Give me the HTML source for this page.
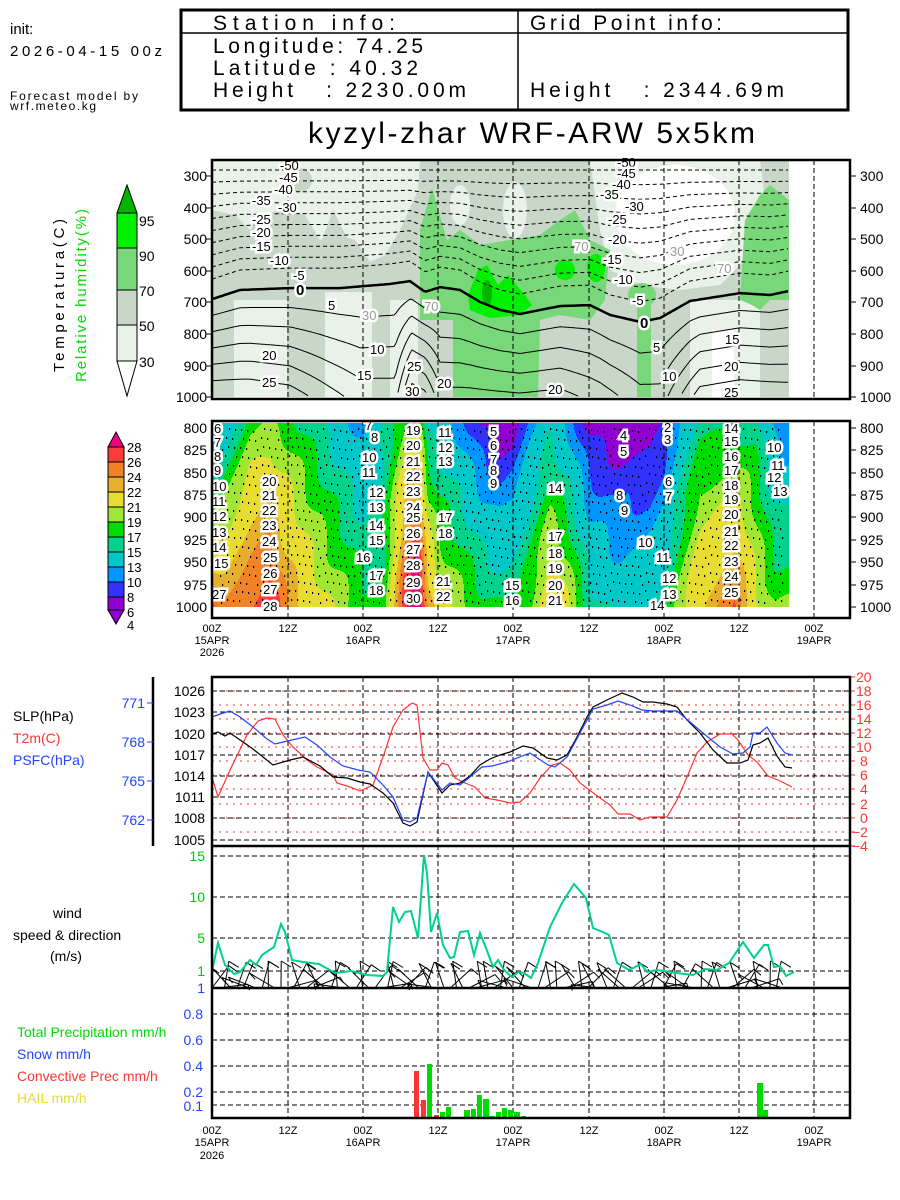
<!DOCTYPE html>
<html><head><meta charset="utf-8"><style>
html,body{margin:0;padding:0;background:#fff}
svg{display:block}
text{font-family:"Liberation Sans",sans-serif}
.lb{stroke:#fff;stroke-width:5px;paint-order:stroke;stroke-linejoin:miter}
.dv{stroke:#000;stroke-width:1;stroke-dasharray:5 3;fill:none}
</style></head><body>
<svg id="s" width="900" height="1200" viewBox="0 0 900 1200" xmlns="http://www.w3.org/2000/svg">
<rect width="900" height="1200" fill="#fff"/>
<!-- header -->
<text x="10" y="34" font-size="15">init:</text>
<text x="10" y="56" font-size="15" textLength="152">2026-04-15 00z</text>
<text x="10" y="100" font-size="12" textLength="128">Forecast model by</text>
<text x="10" y="110" font-size="12" textLength="86">wrf.meteo.kg</text>
<rect x="181" y="10" width="667" height="100" fill="none" stroke="#000" stroke-width="3"/>
<line x1="181" y1="33" x2="848" y2="33" stroke="#000" stroke-width="1.5"/>
<line x1="518" y1="10" x2="518" y2="110" stroke="#000" stroke-width="1.5"/>
<text x="213" y="30" font-size="21" textLength="182">Station info:</text>
<text x="213" y="53" font-size="21" textLength="210">Longitude: 74.25</text>
<text x="213" y="75" font-size="21" textLength="205">Latitude : 40.32</text>
<text x="213" y="97" font-size="21" textLength="253" xml:space="preserve">Height   : 2230.00m</text>
<text x="530" y="30" font-size="21" textLength="192">Grid Point info:</text>
<text x="530" y="97" font-size="21" textLength="254" xml:space="preserve">Height   : 2344.69m</text>
<text x="308" y="143" font-size="30" textLength="447">kyzyl-zhar WRF-ARW 5x5km</text>

<!-- panel 1 legend -->
<polygon points="117,213 127,185 137,213" fill="#00b400" stroke="#000"/>
<rect x="117" y="213" width="20" height="35" fill="#00f000" stroke="#000"/>
<rect x="117" y="248" width="20" height="42" fill="#78d778" stroke="#000"/>
<rect x="117" y="290" width="20" height="35" fill="#c8d7c8" stroke="#000"/>
<rect x="117" y="325" width="20" height="36" fill="#e8f2e8" stroke="#000"/>
<polygon points="117,361 137,361 127,396" fill="#fff" stroke="#000"/>
<g font-size="14"><text x="139" y="226">95</text><text x="139" y="261">90</text><text x="139" y="296">70</text><text x="139" y="331">50</text><text x="139" y="367">30</text></g>
<text transform="translate(64,372) rotate(-90)" font-size="15" textLength="153">Temperatura(C)</text>
<text transform="translate(86,382) rotate(-90)" font-size="15" fill="#00dc00" textLength="173">Relative humidity(%)</text>

<!-- panel 1 RH field -->
<g>
<rect x="212" y="160" width="577" height="237" fill="#c8d7c8"/>
<polygon fill="#e8f2e8" points="212,160 420,160 418,190 400,230 385,255 370,262 355,240 340,235 320,240 305,215 280,210 262,215 250,230 235,215 212,210"/>
<ellipse cx="300" cy="180" rx="12" ry="12" fill="#c8d7c8"/>
<polygon fill="#c8d7c8" points="333,210 348,240 335,262 322,240"/>
<rect x="234" y="300" width="53" height="97" fill="#e8f2e8"/>
<rect x="325" y="292" width="47" height="105" fill="#e8f2e8"/>
<rect x="390" y="300" width="28" height="97" fill="#e8f2e8"/>
<ellipse cx="460" cy="205" rx="10" ry="20" fill="#e8f2e8"/>
<ellipse cx="515" cy="210" rx="12" ry="28" fill="#e8f2e8"/>
<polygon fill="#e8f2e8" points="590,160 760,160 765,200 750,255 720,285 680,290 640,285 610,270 600,230"/>
<ellipse cx="675" cy="215" rx="60" ry="50" fill="#fff"/>
<rect x="690" y="300" width="70" height="97" fill="#e8f2e8"/>
<rect x="712" y="330" width="22" height="67" fill="#fff"/>
<polygon fill="#78d778" points="420,320 420,230 432,188 447,240 460,230 480,245 510,240 540,235 560,220 575,210 590,240 610,250 605,300 590,320 560,315 540,320 538,397 453,397 453,320"/>
<rect x="637" y="290" width="14" height="107" fill="#78d778"/>
<ellipse cx="642" cy="295" rx="14" ry="12" fill="#78d778"/>
<polygon fill="#78d778" points="740,300 745,220 760,195 770,185 789,200 789,300 770,300 760,310 752,305"/>
<polygon fill="#00f000" points="468,295 478,270 487,265 498,285 508,275 525,295 532,305 520,315 490,318 470,310"/>
<ellipse cx="565" cy="270" rx="10" ry="10" fill="#00f000"/>
<ellipse cx="596" cy="268" rx="9" ry="14" fill="#00f000"/>
<ellipse cx="487" cy="293" rx="5" ry="13" fill="#00b400"/>
</g>
<g id="iso"></g>
<g class="dv"><line x1="288" y1="160" x2="288" y2="397"/><line x1="363" y1="160" x2="363" y2="397"/><line x1="438" y1="160" x2="438" y2="397"/><line x1="513" y1="160" x2="513" y2="397"/><line x1="589" y1="160" x2="589" y2="397"/><line x1="664" y1="160" x2="664" y2="397"/><line x1="739" y1="160" x2="739" y2="397"/><line x1="814" y1="160" x2="814" y2="397"/></g>
<g font-size="13" class="lb">
<text x="280" y="170">-50</text><text x="279" y="182">-45</text><text x="274" y="194">-40</text><text x="252" y="205">-35</text><text x="278" y="212">-30</text><text x="252" y="224">-25</text><text x="252" y="237">-20</text><text x="252" y="251">-15</text><text x="270" y="265">-10</text><text x="293" y="280">-5</text>
<text x="296" y="295" font-weight="bold" font-size="15">0</text><text x="328" y="310">5</text><text x="370" y="354">10</text><text x="357" y="380">15</text><text x="262" y="360">20</text><text x="262" y="387">25</text><text x="407" y="371">25</text><text x="405" y="396">30</text><text x="437" y="388">20</text><text x="548" y="394">20</text>
<text x="617" y="167">-50</text><text x="617" y="178">-45</text><text x="612" y="189">-40</text><text x="600" y="199">-35</text><text x="625" y="211">-30</text><text x="608" y="224">-25</text><text x="608" y="244">-20</text><text x="603" y="264">-15</text><text x="614" y="284">-10</text><text x="632" y="305">-5</text>
<text x="640" y="328" font-weight="bold" font-size="15">0</text><text x="653" y="352">5</text><text x="662" y="381">10</text><text x="725" y="344">15</text><text x="724" y="371">20</text><text x="724" y="397">25</text>
<text x="362" y="320" fill="#999">30</text><text x="574" y="251" fill="#999">70</text><text x="717" y="273" fill="#999">70</text><text x="670" y="256" fill="#999">30</text><text x="424" y="311" fill="#999">70</text>
</g>
<rect x="212" y="160" width="638" height="239" fill="none" stroke="#000" stroke-width="2.5"/>
<g font-size="14">
<text x="207" y="181" text-anchor="end">300</text><text x="207" y="213" text-anchor="end">400</text><text x="207" y="244" text-anchor="end">500</text><text x="207" y="276" text-anchor="end">600</text><text x="207" y="307" text-anchor="end">700</text><text x="207" y="339" text-anchor="end">800</text><text x="207" y="371" text-anchor="end">900</text><text x="207" y="402" text-anchor="end">1000</text>
<text x="860" y="181">300</text><text x="860" y="213">400</text><text x="860" y="244">500</text><text x="860" y="276">600</text><text x="860" y="307">700</text><text x="860" y="339">800</text><text x="860" y="371">900</text><text x="860" y="402">1000</text>
</g>
<g stroke="#000"><line x1="850" y1="176" x2="856" y2="176"/><line x1="850" y1="208" x2="856" y2="208"/><line x1="850" y1="239" x2="856" y2="239"/><line x1="850" y1="271" x2="856" y2="271"/><line x1="850" y1="302" x2="856" y2="302"/><line x1="850" y1="334" x2="856" y2="334"/><line x1="850" y1="366" x2="856" y2="366"/><line x1="850" y1="397" x2="856" y2="397"/>
<line x1="206" y1="176" x2="212" y2="176"/><line x1="206" y1="208" x2="212" y2="208"/><line x1="206" y1="239" x2="212" y2="239"/><line x1="206" y1="271" x2="212" y2="271"/><line x1="206" y1="302" x2="212" y2="302"/><line x1="206" y1="334" x2="212" y2="334"/><line x1="206" y1="366" x2="212" y2="366"/><line x1="206" y1="397" x2="212" y2="397"/></g>

<!-- panel 2 legend -->
<polygon points="108,447 116,432 124,447" fill="#f00082" stroke="#000"/>
<g stroke="#000">
<rect x="108" y="447" width="16" height="15" fill="#fa3c3c"/><rect x="108" y="462" width="16" height="15" fill="#f08228"/><rect x="108" y="477" width="16" height="15" fill="#e6af2d"/><rect x="108" y="492" width="16" height="15" fill="#e6dc32"/><rect x="108" y="507" width="16" height="15" fill="#a0e632"/><rect x="108" y="522" width="16" height="15" fill="#00dc00"/><rect x="108" y="537" width="16" height="15" fill="#00d28c"/><rect x="108" y="552" width="16" height="15" fill="#00c8c8"/><rect x="108" y="567" width="16" height="15" fill="#0096ff"/><rect x="108" y="582" width="16" height="15" fill="#3232ff"/><rect x="108" y="597" width="16" height="13" fill="#9100d2"/></g>
<polygon points="108,610 124,610 116,624" fill="#9100d2" stroke="#000"/>
<g font-size="13"><text x="127" y="452">28</text><text x="127" y="467">26</text><text x="127" y="482">24</text><text x="127" y="497">22</text><text x="127" y="512">21</text><text x="127" y="527">19</text><text x="127" y="542">17</text><text x="127" y="557">15</text><text x="127" y="572">13</text><text x="127" y="587">10</text><text x="127" y="602">8</text><text x="127" y="617">6</text><text x="127" y="630">4</text></g>
<g id="p2"></g>
<g id="dots" fill="#000"></g>
<g class="dv"><line x1="288" y1="421" x2="288" y2="618"/><line x1="363" y1="421" x2="363" y2="618"/><line x1="438" y1="421" x2="438" y2="618"/><line x1="513" y1="421" x2="513" y2="618"/><line x1="589" y1="421" x2="589" y2="618"/><line x1="664" y1="421" x2="664" y2="618"/><line x1="739" y1="421" x2="739" y2="618"/><line x1="814" y1="421" x2="814" y2="618"/></g>
<g font-size="13" class="lb">
<text x="214" y="433">6</text><text x="214" y="447">7</text><text x="214" y="461">8</text><text x="214" y="475">9</text><text x="212" y="491">10</text><text x="212" y="506">11</text><text x="212" y="521">12</text><text x="212" y="537">13</text><text x="212" y="552">14</text><text x="214" y="568">15</text><text x="212" y="599">27</text>
<text x="262" y="486">20</text><text x="262" y="500">21</text><text x="262" y="515">22</text><text x="262" y="530">23</text><text x="262" y="546">24</text><text x="263" y="562">25</text><text x="263" y="578">26</text><text x="263" y="594">27</text><text x="263" y="611">28</text>
<text x="365" y="430">7</text><text x="371" y="442">8</text><text x="362" y="462">10</text><text x="362" y="477">11</text><text x="369" y="497">12</text><text x="369" y="512">13</text><text x="369" y="530">14</text><text x="369" y="545">15</text><text x="356" y="562">16</text><text x="369" y="580">17</text><text x="369" y="595">18</text>
<text x="406" y="435">19</text><text x="406" y="450">20</text><text x="406" y="466">21</text><text x="406" y="481">22</text><text x="406" y="496">23</text><text x="406" y="512">24</text><text x="406" y="522">25</text><text x="406" y="538">26</text><text x="406" y="554">27</text><text x="406" y="570">28</text><text x="406" y="587">29</text><text x="406" y="603">30</text>
<text x="438" y="437">11</text><text x="438" y="452">12</text><text x="438" y="466">13</text><text x="438" y="522">17</text><text x="438" y="538">18</text><text x="436" y="586">21</text><text x="436" y="601">22</text>
<text x="490" y="436">5</text><text x="490" y="450">6</text><text x="490" y="464">7</text><text x="490" y="475">8</text><text x="490" y="488">9</text><text x="548" y="493">14</text><text x="548" y="541">17</text><text x="548" y="558">18</text><text x="548" y="573">19</text><text x="548" y="590">20</text><text x="548" y="605">21</text><text x="505" y="590">15</text><text x="505" y="605">16</text>
<text x="620" y="440">4</text><text x="620" y="456">5</text><text x="616" y="500">8</text><text x="621" y="515">9</text><text x="638" y="547">10</text><text x="656" y="562">11</text><text x="662" y="583">12</text><text x="662" y="599">13</text><text x="650" y="610">14</text>
<text x="664" y="432">2</text><text x="664" y="444">3</text><text x="665" y="486">6</text><text x="665" y="501">7</text>
<text x="724" y="433">14</text><text x="724" y="446">15</text><text x="724" y="461">16</text><text x="724" y="475">17</text><text x="724" y="490">18</text><text x="724" y="504">19</text><text x="724" y="519">20</text><text x="724" y="536">21</text><text x="724" y="550">22</text><text x="724" y="566">23</text><text x="724" y="581">24</text><text x="724" y="597">25</text>
<text x="767" y="452">10</text><text x="771" y="470">11</text><text x="767" y="482">12</text><text x="773" y="496">13</text>
</g>
<rect x="212" y="421" width="638" height="197" fill="none" stroke="#000" stroke-width="2.5"/>
<g font-size="14">
<text x="207" y="433" text-anchor="end">800</text><text x="207" y="455" text-anchor="end">825</text><text x="207" y="478" text-anchor="end">850</text><text x="207" y="500" text-anchor="end">875</text><text x="207" y="522" text-anchor="end">900</text><text x="207" y="545" text-anchor="end">925</text><text x="207" y="567" text-anchor="end">950</text><text x="207" y="590" text-anchor="end">975</text><text x="207" y="612" text-anchor="end">1000</text>
<text x="860" y="433">800</text><text x="860" y="455">825</text><text x="860" y="478">850</text><text x="860" y="500">875</text><text x="860" y="522">900</text><text x="860" y="545">925</text><text x="860" y="567">950</text><text x="860" y="590">975</text><text x="860" y="612">1000</text>
</g>
<g stroke="#000"><line x1="850" y1="428" x2="856" y2="428"/><line x1="850" y1="450" x2="856" y2="450"/><line x1="850" y1="473" x2="856" y2="473"/><line x1="850" y1="495" x2="856" y2="495"/><line x1="850" y1="517" x2="856" y2="517"/><line x1="850" y1="540" x2="856" y2="540"/><line x1="850" y1="562" x2="856" y2="562"/><line x1="850" y1="585" x2="856" y2="585"/><line x1="850" y1="607" x2="856" y2="607"/></g>
<g font-size="11" text-anchor="middle">
<text x="212" y="632">00Z</text><text x="212" y="644">15APR</text><text x="212" y="656">2026</text>
<text x="288" y="632">12Z</text><text x="363" y="632">00Z</text><text x="363" y="644">16APR</text><text x="438" y="632">12Z</text><text x="513" y="632">00Z</text><text x="513" y="644">17APR</text><text x="589" y="632">12Z</text><text x="664" y="632">00Z</text><text x="664" y="644">18APR</text><text x="739" y="632">12Z</text><text x="814" y="632">00Z</text><text x="814" y="644">19APR</text>
</g>

<!-- panel 3 -->
<g stroke="#f33" stroke-dasharray="2 5" stroke-width="1">
<line x1="212" y1="691" x2="850" y2="691"/><line x1="212" y1="705" x2="850" y2="705"/><line x1="212" y1="719" x2="850" y2="719"/><line x1="212" y1="733" x2="850" y2="733"/><line x1="212" y1="747" x2="850" y2="747"/><line x1="212" y1="761" x2="850" y2="761"/><line x1="212" y1="775" x2="850" y2="775"/><line x1="212" y1="789" x2="850" y2="789"/><line x1="212" y1="804" x2="850" y2="804"/><line x1="212" y1="818" x2="850" y2="818"/><line x1="212" y1="832" x2="850" y2="832"/></g>
<g class="dv"><line x1="212" y1="691" x2="850" y2="691"/><line x1="212" y1="712" x2="850" y2="712"/><line x1="212" y1="734" x2="850" y2="734"/><line x1="212" y1="755" x2="850" y2="755"/><line x1="212" y1="776" x2="850" y2="776"/><line x1="212" y1="797" x2="850" y2="797"/><line x1="212" y1="818" x2="850" y2="818"/><line x1="212" y1="840" x2="850" y2="840"/>
<line x1="288" y1="677" x2="288" y2="988"/><line x1="363" y1="677" x2="363" y2="988"/><line x1="438" y1="677" x2="438" y2="988"/><line x1="513" y1="677" x2="513" y2="988"/><line x1="589" y1="677" x2="589" y2="988"/><line x1="664" y1="677" x2="664" y2="988"/><line x1="739" y1="677" x2="739" y2="988"/><line x1="814" y1="677" x2="814" y2="988"/>
<line x1="288" y1="988" x2="288" y2="1118"/><line x1="363" y1="988" x2="363" y2="1118"/><line x1="438" y1="988" x2="438" y2="1118"/><line x1="513" y1="988" x2="513" y2="1118"/><line x1="589" y1="988" x2="589" y2="1118"/><line x1="664" y1="988" x2="664" y2="1118"/><line x1="739" y1="988" x2="739" y2="1118"/><line x1="814" y1="988" x2="814" y2="1118"/>
<line x1="212" y1="856" x2="850" y2="856"/><line x1="212" y1="897" x2="850" y2="897"/><line x1="212" y1="938" x2="850" y2="938"/><line x1="212" y1="971" x2="850" y2="971"/>
<line x1="212" y1="1014" x2="850" y2="1014"/><line x1="212" y1="1040" x2="850" y2="1040"/><line x1="212" y1="1066" x2="850" y2="1066"/><line x1="212" y1="1092" x2="850" y2="1092"/><line x1="212" y1="1105" x2="850" y2="1105"/></g>
<polyline fill="none" stroke="#f33" stroke-width="1.2" points="212,777 218,797 230,770 247,735 258,721 267,718 275,719 283,735 293,747 307,760 317,767 333,775 337,783 350,787 360,791 373,785 383,757 393,727 403,710 412,703 417,705 423,758 430,770 437,770 442,763 448,765 455,778 465,783 475,787 485,798 497,800 510,803 520,802 530,793 540,778 552,765 560,763 570,770 580,783 600,798 610,805 618,814 630,814 640,820 650,817 667,817 677,800 687,777 697,753 707,742 720,734 732,734 738,740 748,755 757,762 768,776 778,780 792,787"/>
<polyline fill="none" stroke="#000" stroke-width="1.2" points="212,734 218,732 225,736 230,733 243,742 253,749 273,765 290,760 303,757 320,766 333,777 347,778 360,782 370,784 383,793 393,803 403,823 410,826 417,822 428,772 442,793 450,785 460,783 470,776 480,765 490,759 500,755 510,752 523,746 533,748 547,758 557,760 567,755 577,737 587,717 593,707 607,700 622,693 633,697 643,702 653,702 667,704 677,707 687,720 700,733 713,750 727,763 740,763 748,760 753,745 760,743 768,738 777,756 785,767 792,768"/>
<polyline fill="none" stroke="#24f" stroke-width="1.2" points="212,717 223,713 230,711 240,717 253,727 267,739 275,744 283,742 305,737 317,745 330,757 343,766 358,770 370,772 383,785 393,797 403,820 410,822 417,818 428,772 442,790 450,783 460,785 470,777 482,767 492,766 507,762 530,753 548,765 555,767 567,757 580,733 593,709 607,705 618,701 630,705 642,710 653,711 677,711 690,722 703,733 720,747 733,754 743,753 750,747 753,733 760,733 767,727 777,743 785,753 792,755"/>
<g font-size="14">
<text x="205" y="696" text-anchor="end">1026</text><text x="205" y="717" text-anchor="end">1023</text><text x="205" y="739" text-anchor="end">1020</text><text x="205" y="760" text-anchor="end">1017</text><text x="205" y="781" text-anchor="end">1014</text><text x="205" y="802" text-anchor="end">1011</text><text x="205" y="823" text-anchor="end">1008</text><text x="205" y="845" text-anchor="end">1005</text>
</g>
<g font-size="14" fill="#24f"><text x="145" y="708" text-anchor="end">771</text><text x="145" y="747" text-anchor="end">768</text><text x="145" y="786" text-anchor="end">765</text><text x="145" y="825" text-anchor="end">762</text></g>
<line x1="153" y1="677" x2="153" y2="846" stroke="#000" stroke-width="2.5"/>
<g stroke="#24f"><line x1="147" y1="703" x2="153" y2="703"/><line x1="147" y1="742" x2="153" y2="742"/><line x1="147" y1="781" x2="153" y2="781"/><line x1="147" y1="820" x2="153" y2="820"/></g>
<g font-size="14" fill="#f33"><text x="856" y="682">20</text><text x="856" y="696">18</text><text x="856" y="710">16</text><text x="856" y="724">14</text><text x="856" y="738">12</text><text x="856" y="752">10</text><text x="860" y="766">8</text><text x="860" y="780">6</text><text x="860" y="794">4</text><text x="860" y="809">2</text><text x="860" y="823">0</text><text x="852" y="837">−2</text><text x="852" y="851">−4</text></g>
<g stroke="#f33"><line x1="850" y1="677" x2="855" y2="677"/><line x1="850" y1="691" x2="855" y2="691"/><line x1="850" y1="705" x2="855" y2="705"/><line x1="850" y1="719" x2="855" y2="719"/><line x1="850" y1="733" x2="855" y2="733"/><line x1="850" y1="747" x2="855" y2="747"/><line x1="850" y1="761" x2="855" y2="761"/><line x1="850" y1="775" x2="855" y2="775"/><line x1="850" y1="789" x2="855" y2="789"/><line x1="850" y1="804" x2="855" y2="804"/><line x1="850" y1="818" x2="855" y2="818"/><line x1="850" y1="832" x2="855" y2="832"/><line x1="850" y1="846" x2="855" y2="846"/></g>
<text x="13" y="721" font-size="14">SLP(hPa)</text>
<text x="13" y="743" font-size="14" fill="#f33">T2m(C)</text>
<text x="13" y="765" font-size="14" fill="#24f">PSFC(hPa)</text>

<!-- wind -->
<g id="barbs" stroke="#000" stroke-width="1" fill="none"></g>
<polyline fill="none" stroke="#00d28c" stroke-width="2" points="212,971 218,943 225,965 234,974 240,972 250,960 256,965 262,955 274,947 281,924 285,932 292,960 303,962 319,964 335,973 351,971 367,975 383,976 387,972 393,907 399,922 405,912 411,911 418,938 424,855 427,873 431,932 437,913 443,945 450,958 454,957 460,932 468,931 474,955 480,933 486,948 493,967 498,960 504,970 512,977 518,972 524,973 531,978 538,963 550,927 562,903 574,884 586,898 593,928 605,933 609,935 617,963 629,970 641,964 647,972 657,970 677,973 693,975 705,969 717,970 729,963 743,942 754,958 764,945 768,945 774,967 780,966 786,976 794,972"/>
<g font-size="14" fill="#00c800"><text x="205" y="861" text-anchor="end">15</text><text x="205" y="902" text-anchor="end">10</text><text x="205" y="943" text-anchor="end">5</text><text x="205" y="976" text-anchor="end">1</text></g>
<text x="205" y="993" font-size="14" fill="#24f" text-anchor="end">1</text>
<text x="53" y="918" font-size="14">wind</text>
<text x="13" y="940" font-size="14">speed &amp; direction</text>
<text x="50" y="961" font-size="14">(m/s)</text>

<!-- precip -->
<g fill="#00dc00">
<rect x="427" y="1064" width="5" height="54"/><rect x="440" y="1112" width="5" height="6"/><rect x="446" y="1107" width="5" height="11"/><rect x="459" y="1117" width="5" height="1"/><rect x="464" y="1110" width="6" height="8"/><rect x="471" y="1109" width="5" height="9"/><rect x="477" y="1095" width="5" height="23"/><rect x="483" y="1099" width="6" height="19"/><rect x="489" y="1116" width="6" height="2"/><rect x="496" y="1112" width="5" height="6"/><rect x="502" y="1108" width="5" height="10"/><rect x="508" y="1110" width="5" height="8"/><rect x="514" y="1112" width="6" height="6"/><rect x="521" y="1116" width="5" height="2"/><rect x="527" y="1117" width="5" height="1"/>
<rect x="757" y="1083" width="6" height="35"/><rect x="763" y="1110" width="5" height="8"/></g>
<g fill="#f33"><rect x="414" y="1071" width="5" height="47"/><rect x="421" y="1100" width="5" height="18"/><rect x="434" y="1115" width="5" height="3"/></g>
<g font-size="14" fill="#24f"><text x="203" y="993" text-anchor="end"> </text><text x="203" y="1019" text-anchor="end">0.8</text><text x="203" y="1045" text-anchor="end">0.6</text><text x="203" y="1071" text-anchor="end">0.4</text><text x="203" y="1097" text-anchor="end">0.2</text><text x="203" y="1111" text-anchor="end">0.1</text></g>
<g font-size="14"><text x="17" y="1037" fill="#00dc00">Total Precipitation mm/h</text><text x="17" y="1059" fill="#24f">Snow mm/h</text><text x="17" y="1081" fill="#f33">Convective Prec mm/h</text><text x="17" y="1103" fill="#e6dc32">HAIL mm/h</text></g>
<rect x="212" y="677" width="638" height="441" fill="none" stroke="#000" stroke-width="2.5"/>
<line x1="212" y1="846" x2="850" y2="846" stroke="#000" stroke-width="2.5"/>
<line x1="212" y1="988" x2="850" y2="988" stroke="#000" stroke-width="2.5"/>
<g font-size="11" text-anchor="middle">
<text x="212" y="1134">00Z</text><text x="212" y="1146">15APR</text><text x="212" y="1159">2026</text>
<text x="288" y="1134">12Z</text><text x="363" y="1134">00Z</text><text x="363" y="1146">16APR</text><text x="438" y="1134">12Z</text><text x="513" y="1134">00Z</text><text x="513" y="1146">17APR</text><text x="589" y="1134">12Z</text><text x="664" y="1134">00Z</text><text x="664" y="1146">18APR</text><text x="739" y="1134">12Z</text><text x="814" y="1134">00Z</text><text x="814" y="1146">19APR</text>
</g>
</svg>
<script>
(function(){
var NS="http://www.w3.org/2000/svg";
function ip(t,x){for(var i=0;i<t.length-1;i++){if(x<=t[i+1][0]){var f=(x-t[i][0])/(t[i+1][0]-t[i][0]);return t[i][1]+f*(t[i+1][1]-t[i][1]);}}return t[t.length-1][1];}
function el(p,n,a){var e=document.createElementNS(NS,n);for(var k in a)e.setAttribute(k,a[k]);p.appendChild(e);return e;}
// panel 2
var cols=[[212,6,26],[225,11,24],[250,16,26],[270,17,28],[288,16,24],[310,14,21],[330,12,19],[363,9,16],[385,13,16],[405,17,28],[418,19,31],[428,12,24],[440,11,20],[460,9,18],[480,6,16],[500,4,15],[513,5,15],[530,9,17],[550,12,22],[570,9,19],[590,5,14],[620,4,12],[650,4,13],[664,6,14],[680,10,18],[700,14,22],[720,14,24],[735,14,26],[755,14,20],[775,9,17],[789,8,17]];
var tt=cols.map(function(c){return [c[0],c[1]];}),tb=cols.map(function(c){return [c[0],c[2]];});
var th=[[4,"#9100d2"],[6,"#9100d2"],[8,"#3232ff"],[10,"#0096ff"],[13,"#00c8c8"],[15,"#00d28c"],[17,"#00dc00"],[19,"#a0e632"],[22,"#e6dc32"],[24,"#e6af2d"],[26,"#f08228"],[28,"#fa3c3c"],[999,"#f00082"]];
function cl(T){for(var i=1;i<th.length;i++){if(T<th[i][0])return th[i][1];}return "#f00082";}
var g=document.getElementById("p2"),h="";
for(var x=212;x<789;x++){var a=ip(tt,x+.5),b=ip(tb,x+.5),prev=null,st=423;
 for(var y=423;y<=607;y++){var f=(y-423)/184;var T=a+(b-a)*Math.pow(f,0.9)+0.6*Math.sin(x/9+y/15);var c=cl(T);
  if(c!==prev){if(prev)h+='<rect x="'+x+'" y="'+st+'" width="1.2" height="'+(y-st)+'" fill="'+prev+'"/>';prev=c;st=y;}}
 h+='<rect x="'+x+'" y="'+st+'" width="1.2" height="'+(607-st)+'" fill="'+prev+'"/>';}
g.innerHTML=h;
var d="";for(var x=218;x<785;x+=7){for(var y=428;y<605;y+=9){var o=((x*7+y*13)%5);d+='<rect x="'+(x+o)+'" y="'+(y+((x>>3)%4))+'" width="1.2" height="2"/>';}}
document.getElementById("dots").innerHTML=d;
// panel 1 isotherms
var p0=[[212,690],[240,661],[290,655],[340,655],[390,642],[410,633],[425,667],[440,652],[460,661],[480,699],[500,724],[520,737],[560,712],[590,709],[610,740],[640,762],[660,750],[690,696],[740,671],[770,677],[789,664]];
var ts=[[212,30],[250,30],[290,28],[330,22],[360,18],[395,18],[412,34],[425,32],[440,22],[470,22],[520,21],[560,22],[600,18],[640,12],[660,12],[700,28],[740,30],[789,29]];
function py(p){return 176+(p-300)*0.3157;}
var iso=document.getElementById("iso");
for(var T=-50;T<=35;T+=5){var s="",on=false;
 for(var x=212;x<=789;x+=2){var P0=ip(p0,x),y0=py(P0),y;
  if(T<0){y=170+(y0-20-170)*((50+T)/45);}
  else if(T==0){y=y0;}
  else{var Ts=ip(ts,x);if(T>=Ts){on=false;continue;}y=py(P0+T/Ts*(1000-P0));if(y>397){on=false;continue;}}
  s+=(on?"L":"M")+x+","+y.toFixed(1);on=true;}
 if(s)el(iso,"path",{d:s,fill:"none",stroke:"#000","stroke-width":T==0?2.5:1,"stroke-dasharray":T<0?"4 3":"none"});}
// wind barbs
var bg=document.getElementById("barbs");
for(var i=0;i<92;i++){var x=212+6.27*i;var ang=Math.sin(i*1.7)*0.9+Math.cos(i*0.45)*0.6;var L=30;
 var x2=x+L*Math.sin(ang),y2=988-L*Math.cos(ang)*0.9;
 el(bg,"line",{x1:x.toFixed(1),y1:988,x2:x2.toFixed(1),y2:y2.toFixed(1)});
 el(bg,"line",{x1:x2.toFixed(1),y1:y2.toFixed(1),x2:(x2+10*Math.cos(ang)).toFixed(1),y2:(y2+6).toFixed(1)});}
})();
</script>
</body></html>
